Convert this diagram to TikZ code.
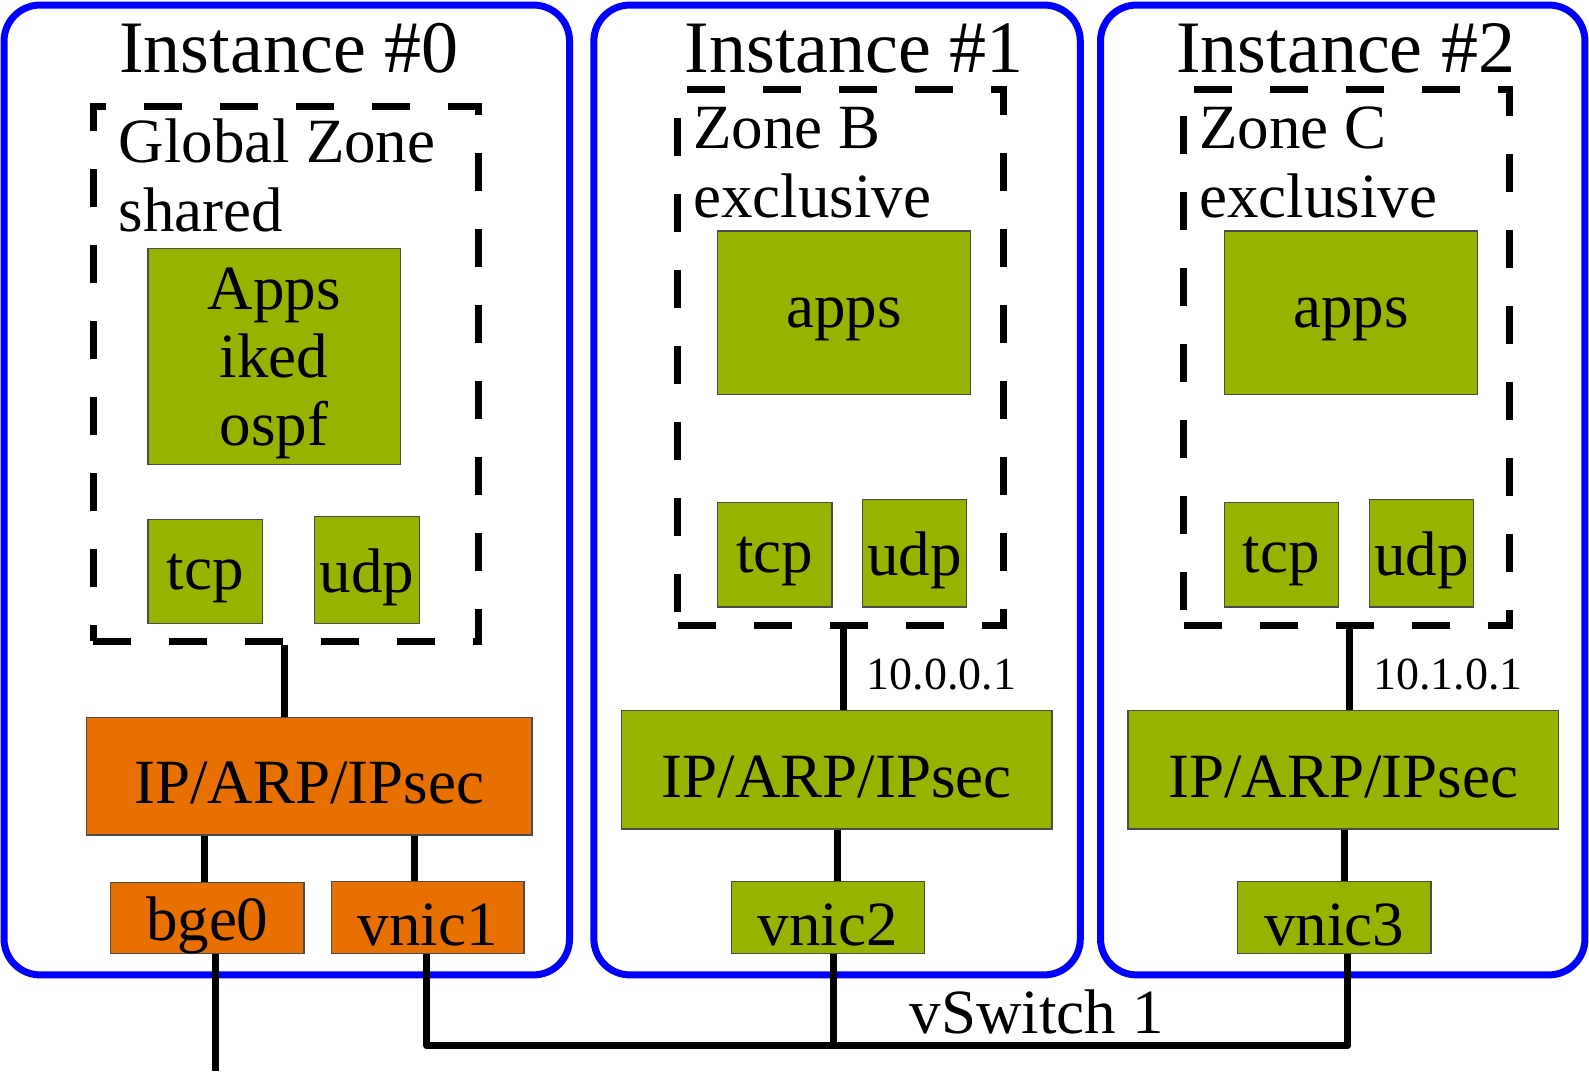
\documentclass[tikz,border=0pt]{standalone}
\usepackage{fontspec}
\setmainfont{Liberation Serif}
\usetikzlibrary{fit}
\definecolor{gr}{HTML}{97B300}
\definecolor{orng}{HTML}{E87000}
\begin{document}
\begin{tikzpicture}[x=1.0134pt,y=-1.0134pt,
  inst/.style={draw=blue, line width=7pt, rounded corners=36pt, inner sep=0pt},
  zonebox/.style={draw=black, line width=7pt, dash pattern=on 38pt off 38pt, inner sep=0pt},
  boxtext/.style={label={[align=center, inner sep=0pt, yshift=-7pt, font=\fontsize{63}{68}\selectfont]center:#1}},
  gbox/.style={fill=gr, draw=black!70, line width=1.2pt, inner sep=0pt, boxtext={#1}},
  obox/.style={fill=orng, draw=black!70, line width=1.2pt, inner sep=0pt, boxtext={#1}},
  conn/.style={line width=7pt},
  title/.style={anchor=base, inner sep=0pt, font=\fontsize{74}{80}\selectfont},
  lbl/.style={anchor=base west, inner sep=0pt, font=\fontsize{63}{69}\selectfont},
  iplbl/.style={anchor=base west, inner sep=0pt, font=\fontsize{46}{50}\selectfont}]
\useasboundingbox (0,0) rectangle (1568,1057);
% instances
\node[inst, fit={(4,5) (562,962)}] (inst0) {};
\node[inst, fit={(586,5) (1066,962)}] (inst1) {};
\node[inst, fit={(1086,5) (1564,962)}] (inst2) {};
\node[title] (t0) at (285,72) {Instance \#0};
\node[title] (t1) at (843,72) {Instance \#1};
\node[title] (t2) at (1328,72) {Instance \#2};
% zones
\node[zonebox, fit={(92,105) (472,633)}] (zone0) {};
\node[zonebox, fit={(669,88) (990,617)}] (zone1) {};
\node[zonebox, fit={(1168,88) (1490,617)}] (zone2) {};
\node[lbl] (z0a) at (117,160) {Global Zone};
\node[lbl] (z0b) at (117,228) {shared};
\node[lbl] (z1a) at (684,147) {Zone B};
\node[lbl] (z1b) at (684,215) {exclusive};
\node[lbl] (z2a) at (1183,147) {Zone C};
\node[lbl] (z2b) at (1183,215) {exclusive};
% apps
\node[gbox={Apps\\iked\\ospf}, fit={(146,245) (395,458)}] (apps0) {};
\node[gbox={apps}, fit={(708,228) (958,389)}] (apps1) {};
\node[gbox={apps}, fit={(1208,228) (1458,389)}] (apps2) {};
% tcp udp
\node[gbox={tcp}, fit={(146,513) (259,615)}] (tcp0) {};
\node[gbox={udp}, fit={(310,510) (414,615)}] (udp0) {};
\node[gbox={tcp}, fit={(708,496) (821,599)}] (tcp1) {};
\node[gbox={udp}, fit={(851,493) (954,599)}] (udp1) {};
\node[gbox={tcp}, fit={(1208,496) (1321,599)}] (tcp2) {};
\node[gbox={udp}, fit={(1351,493) (1454,599)}] (udp2) {};
% IP
\node[obox={IP/ARP/IPsec}, fit={(85,708) (525,824)}] (ip0) {};
\node[gbox={IP/ARP/IPsec}, fit={(613,701) (1038,818)}] (ip1) {};
\node[gbox={IP/ARP/IPsec}, fit={(1113,701) (1538,818)}] (ip2) {};
% nics
\node[obox={bge0}, fit={(109,871) (300,941)}] (bge0) {};
\node[obox={vnic1}, fit={(327,870) (517,941)}] (vnic1) {};
\node[gbox={vnic2}, fit={(722,870) (912,941)}] (vnic2) {};
\node[gbox={vnic3}, fit={(1221,870) (1412,941)}] (vnic3) {};
% labels
\node[iplbl] (ipa) at (855,680) {10.0.0.1};
\node[iplbl] (ipb) at (1355,680) {10.1.0.1};
\node[anchor=base, inner sep=0pt, font=\fontsize{63}{69}\selectfont] (vsw) at (1023,1020) {vSwitch 1};
% connectors
\draw[conn] (zone0.south -| 281,0) -- (ip0.north -| 281,0);
\draw[conn] (ip0.south -| 202,0) -- (bge0.north -| 202,0);
\draw[conn] (ip0.south -| 409,0) -- (vnic1.north -| 409,0);
\coordinate (ext) at (213,1057);
\draw[conn] (bge0.south -| ext) -- (ext);
\draw[conn] (zone1.south -| 832,0) -- (ip1.north -| 832,0);
\draw[conn] (ip1.south -| 826,0) -- (vnic2.north -| 826,0);
\draw[conn] (zone2.south -| 1332,0) -- (ip2.north -| 1332,0);
\draw[conn] (ip2.south -| 1327,0) -- (vnic3.north -| 1327,0);
\coordinate (sw1) at (421,1032);
\coordinate (sw2) at (822,1032);
\coordinate (sw3) at (1330,1032);
\draw[conn, line join=round] (vnic1.south -| sw1) -- (sw1) -- (sw3) -- (vnic3.south -| sw3);
\draw[conn] (vnic2.south -| sw2) -- (sw2);
\end{tikzpicture}
\end{document}
